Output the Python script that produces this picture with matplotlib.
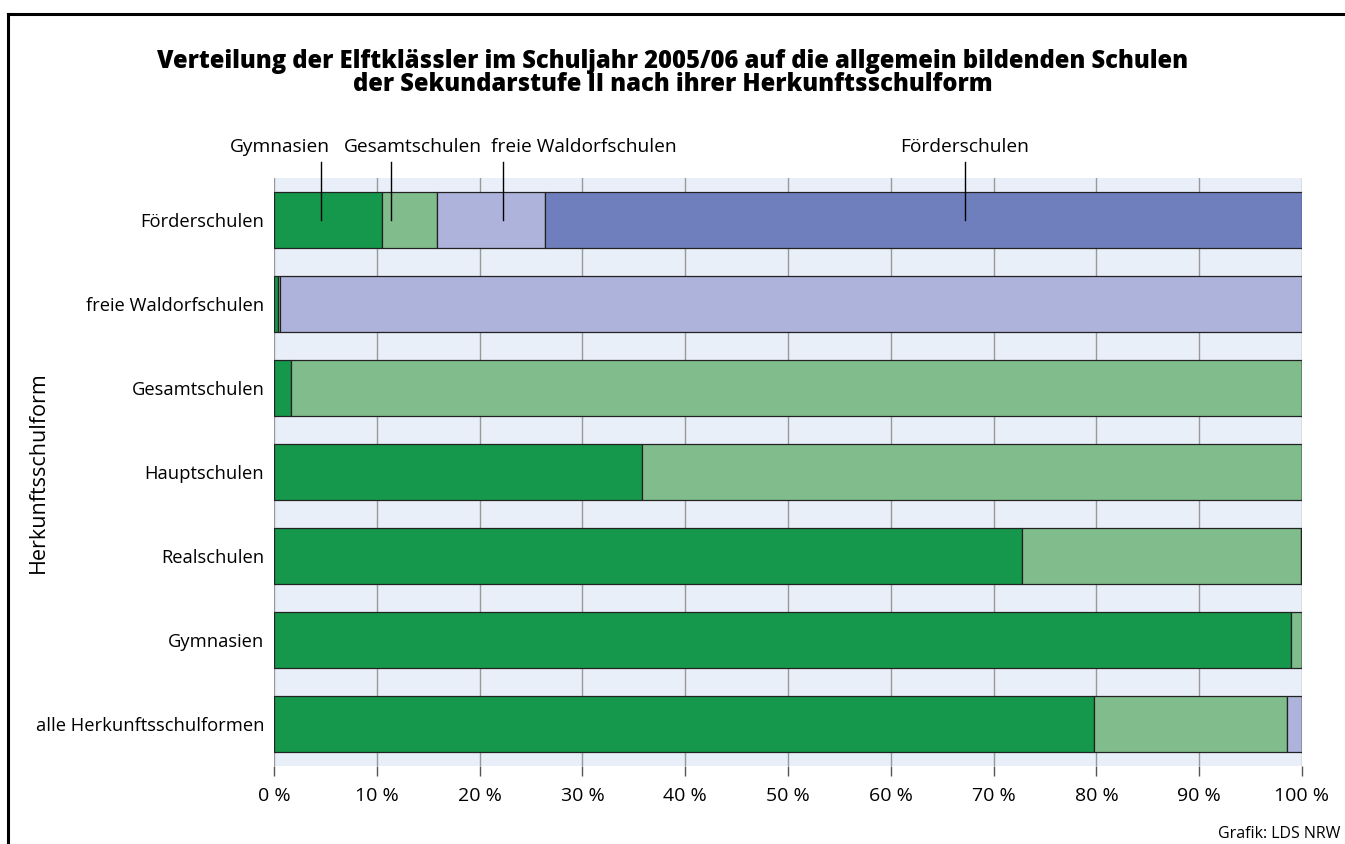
import matplotlib
matplotlib.use("Agg")
import matplotlib.pyplot as plt
from matplotlib.lines import Line2D
import numpy as np

plt.rcParams['font.family'] = ['Open Sans', 'DejaVu Sans']

categories = ["Förderschulen", "freie Waldorfschulen", "Gesamtschulen", "Hauptschulen",
              "Realschulen", "Gymnasien", "alle Herkunftsschulformen"]
series_names = ["Gymnasien", "Gesamtschulen", "freie Waldorfschulen", "Förderschulen"]
gymnasien = [10.5, 0.4, 1.7, 35.8, 72.8, 98.9, 79.8]
gesamtschulen = [5.4, 0.2, 98.3, 64.2, 27.1, 1.1, 18.7]
waldorf = [10.5, 99.4, 0.0, 0.0, 0.1, 0.0, 1.5]
foerder = [73.6, 0.0, 0.0, 0.0, 0.0, 0.0, 0.0]
colors = ["#15984B", "#80BC8C", "#ADB3DB", "#6F7FBE"]
xticks = list(range(0, 101, 10))
xticklabels = [f"{v} %" for v in xticks]
# annotation positions (x in %, label centre in %)
annot_line_x = [4.6, 11.4, 22.3, 67.2]
annot_text_x = [0.6, 13.5, 30.1, 67.2]

W, H = 1345, 844
fig = plt.figure(figsize=(W / 100, H / 100), dpi=100)
ax = fig.add_axes([274 / W, (H - 766) / H, 1028 / W, 588 / H])
ax.set_facecolor("#E9EFF9")

y = np.arange(len(categories))
left = np.zeros(len(categories))
for vals, col in zip([gymnasien, gesamtschulen, waldorf, foerder], colors):
    v = np.array(vals)
    ax.barh(y, v, left=left, height=0.665, color=col, edgecolor="#222222",
            linewidth=0.9, zorder=3)
    left += v

ax.set_xlim(0, 100)
ax.set_ylim(len(categories) - 0.5, -0.5)
ax.set_xticks(xticks)
ax.set_xticklabels(xticklabels, fontsize=14)
ax.set_yticks(y)
ax.set_yticklabels(categories, fontsize=13.2)
ax.tick_params(axis="y", length=0, pad=7)
ax.tick_params(axis="x", length=7, width=1, color="#555555", pad=8)
ax.grid(axis="x", color="#999999", linewidth=1, zorder=1)
ax.set_axisbelow(True)
for s in ax.spines.values():
    s.set_visible(False)
ax.set_ylabel("Herkunftsschulform", fontsize=15.5)
ax.yaxis.set_label_coords(-0.2194, 0.5)

# annotation labels above bars
for name, lx, tx in zip(series_names, annot_line_x, annot_text_x):
    ax.text(tx, -0.5 - 0.37, name, ha="center", va="center", fontsize=13.8, clip_on=False)
    ax.plot([lx, lx], [-0.5 - 0.19, 0.0], color="black", linewidth=1, zorder=5, clip_on=False)

fig.text(673 / W, 1 - 73 / H,
         "Verteilung der Elftklässler im Schuljahr 2005/06 auf die allgemein bildenden Schulen\n"
         "der Sekundarstufe II nach ihrer Herkunftsschulform",
         ha="center", va="center", fontsize=17.1, fontweight="heavy", linespacing=0.88)
fig.text(1340 / W, 1 - 834 / H, "Grafik: LDS NRW", ha="right", va="center", fontsize=11.5)

# frame
fig.add_artist(Line2D([7.5 / W, 1], [1 - 13.5 / H, 1 - 13.5 / H], color="black",
                      linewidth=2.2, transform=fig.transFigure))
fig.add_artist(Line2D([7.5 / W, 7.5 / W], [0, 1 - 13.5 / H], color="black",
                      linewidth=2.2, transform=fig.transFigure))

fig.savefig("out.png", dpi=100)
